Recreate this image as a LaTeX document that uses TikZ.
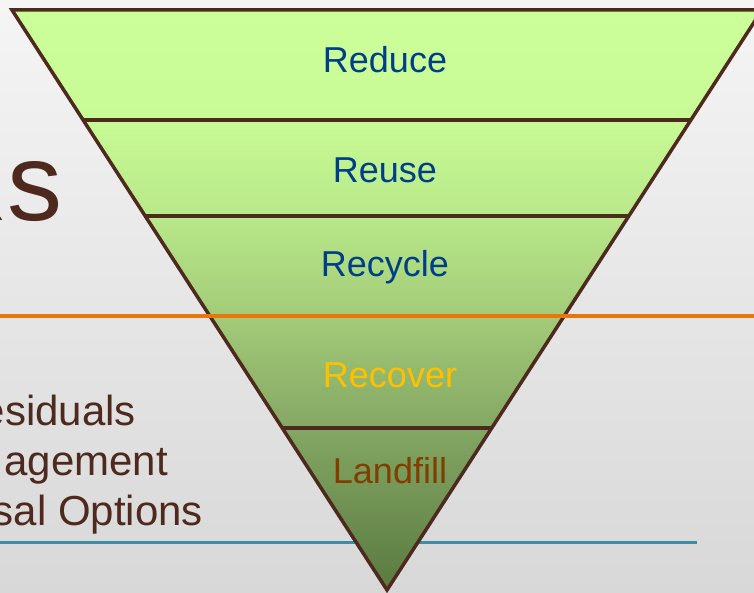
\documentclass[tikz,border=0pt]{standalone}
\usepackage{fontspec}
\setmainfont{Liberation Sans}
\usetikzlibrary{calc}
\definecolor{brn}{HTML}{4E2A1E}
\definecolor{bgtop}{HTML}{F5F5F5}
\definecolor{bgbot}{HTML}{D8D8D8}
\definecolor{g0}{HTML}{CCFF99}
\definecolor{g1}{HTML}{C8FA95}
\definecolor{g2}{HTML}{B8E889}
\definecolor{g3}{HTML}{A3CB78}
\definecolor{g4}{HTML}{84A764}
\definecolor{g5}{HTML}{5A7A40}
\definecolor{bluetxt}{HTML}{003F87}
\definecolor{recov}{HTML}{FFC000}
\definecolor{landc}{HTML}{7F3F00}
\definecolor{orng}{HTML}{E8760D}
\definecolor{tealc}{HTML}{3A8EA6}
\pgfdeclareverticalshading{pyr}{100bp}{color(0bp)=(g5); color(25bp)=(g5); color(39bp)=(g4); color(48.6bp)=(g3); color(57.2bp)=(g2); color(65.5bp)=(g1); color(75bp)=(g0); color(100bp)=(g0)}
\tikzset{
  tri/.style={draw=brn, line width=3.5pt, line join=miter, shading=pyr},
  sep/.style={draw=brn, line width=3.5pt},
  lvl/.style={anchor=base, font=\fontsize{36}{40}\selectfont, inner sep=0pt},
  lefttxt/.style={anchor=base east, text=brn, font=\fontsize{42}{50}\selectfont, inner sep=0pt},
}
\begin{document}
\begin{tikzpicture}[x=1pt,y=-1pt]
\useasboundingbox (0,0) rectangle (754,593);
\clip (0,0) rectangle (754,593);
\shade[top color=bgtop, bottom color=bgbot] (0,0) rectangle (754,593);
% left text (cut off by the frame)
\node[anchor=base east, text=brn, font=\fontsize{110}{120}\selectfont, inner sep=0pt] (rs) at (63,221) {Rs};
\node[lefttxt] (res) at (136,425) {esiduals};
\node[lefttxt] (man) at (168,475) {agement};
\node[lefttxt] (dis) at (203,525) {sal Options};
% teal line (under the triangle)
\coordinate (t0) at (0,542);
\coordinate (t1) at (697,542);
\draw[tealc, line width=3pt] (t0) -- (t1);
% triangle
\coordinate (TL) at (12,10);
\coordinate (TR) at (762,10);
\coordinate (A) at (387,590);
\shadedraw[tri] (TL) -- (TR) -- (A) -- cycle;
\draw[sep] ($(TL)!0.18966!(A)$) -- ($(TR)!0.18966!(A)$);
\draw[sep] ($(TL)!0.35517!(A)$) -- ($(TR)!0.35517!(A)$);
\draw[sep] ($(TL)!0.52759!(A)$) -- ($(TR)!0.52759!(A)$);
\draw[sep] ($(TL)!0.72069!(A)$) -- ($(TR)!0.72069!(A)$);
% orange line (over the triangle)
\coordinate (o0) at (0,316);
\coordinate (o1) at (754,316);
\draw[orng, line width=4pt] (o0) -- (o1);
% level labels
\node[lvl, text=bluetxt] (reduce) at (385,73) {Reduce};
\node[lvl, text=bluetxt] (reuse) at (385,183) {Reuse};
\node[lvl, text=bluetxt] (recycle) at (385,277) {Recycle};
\node[lvl, text=recov] (recover) at (390,387) {Recover};
\node[lvl, text=landc] (landfill) at (390,483) {Landfill};
\end{tikzpicture}
\end{document}
